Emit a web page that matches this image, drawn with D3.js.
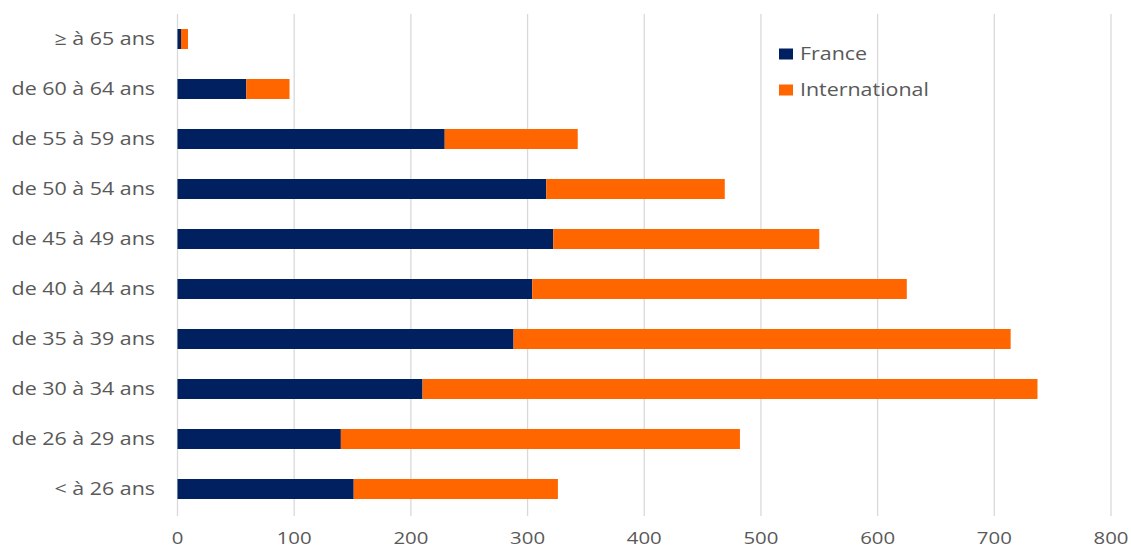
<!DOCTYPE html>
<html><head><meta charset="utf-8">
<script src="https://cdn.jsdelivr.net/npm/d3@7"></script>
<style>body{margin:0;background:#fff;}svg{display:block;}</style>
</head><body>
<script>
const categories = ["≥ à 65 ans","de 60 à 64 ans","de 55 à 59 ans","de 50 à 54 ans","de 45 à 49 ans","de 40 à 44 ans","de 35 à 39 ans","de 30 à 34 ans","de 26 à 29 ans","< à 26 ans"];
const france = [3, 59, 229, 316, 322, 304, 288, 210, 140, 151];
const international = [6, 37, 114, 153, 228, 321, 426, 527, 342, 175];
const xTicks = [0,100,200,300,400,500,600,700,800];
const seriesNames = ["France","International"];
const colors = ["#002060","#FF6600"];

const W=1131,H=550;
const svg=d3.select("body").append("svg").attr("width",W).attr("height",H);
const x=d3.scaleLinear().domain([0,800]).range([177.5,1111]);
const y=d3.scaleBand().domain(categories).range([14,514]).paddingInner(0.6).paddingOuter(0.3);

const font="'Open Sans', sans-serif";
const sx=1.19;
// gridlines
svg.append("g").selectAll("line").data(xTicks).join("line")
  .attr("x1",d=>x(d)).attr("x2",d=>x(d)).attr("y1",14).attr("y2",516)
  .attr("stroke","#d9d9d9").attr("stroke-width",1.3);

const rows=categories.map((c,i)=>({c,f:france[i],n:international[i]}));
const stack=d3.stack().keys(["f","n"])(rows);
svg.append("g").selectAll("g").data(stack).join("g").attr("fill",(d,i)=>colors[i])
  .selectAll("rect").data(d=>d).join("rect")
  .attr("x",d=>x(d[0])).attr("width",d=>x(d[1])-x(d[0]))
  .attr("y",d=>y(d.data.c)).attr("height",y.bandwidth());

// y labels
svg.append("g").selectAll("g").data(categories).join("g")
  .attr("transform",d=>`translate(155,${y(d)+y.bandwidth()/2}) scale(${sx},1)`)
  .append("text").attr("dy","0.35em")
  .attr("text-anchor","end").attr("font-family",font).attr("font-size",18)
  .attr("fill","#595959").text(d=>d);

// x labels
svg.append("g").selectAll("g").data(xTicks).join("g")
  .attr("transform",d=>`translate(${x(d)},538) scale(1.2,1)`)
  .append("text").attr("dy","0.35em")
  .attr("text-anchor","middle").attr("font-family",font).attr("font-size",17)
  .attr("fill","#595959").text(d=>d);

// legend
const lg=svg.append("g").selectAll("g").data(seriesNames).join("g")
  .attr("transform",(d,i)=>`translate(779,${54+i*36})`);
lg.append("rect").attr("x",0).attr("y",-5.5).attr("width",14).attr("height",11).attr("fill",(d,i)=>colors[i]);
lg.append("g").attr("transform",`translate(21,0) scale(${sx},1)`)
  .append("text").attr("dy","0.35em").attr("font-family",font)
  .attr("font-size",18).attr("fill","#595959").text(d=>d);
</script>
</body></html>
